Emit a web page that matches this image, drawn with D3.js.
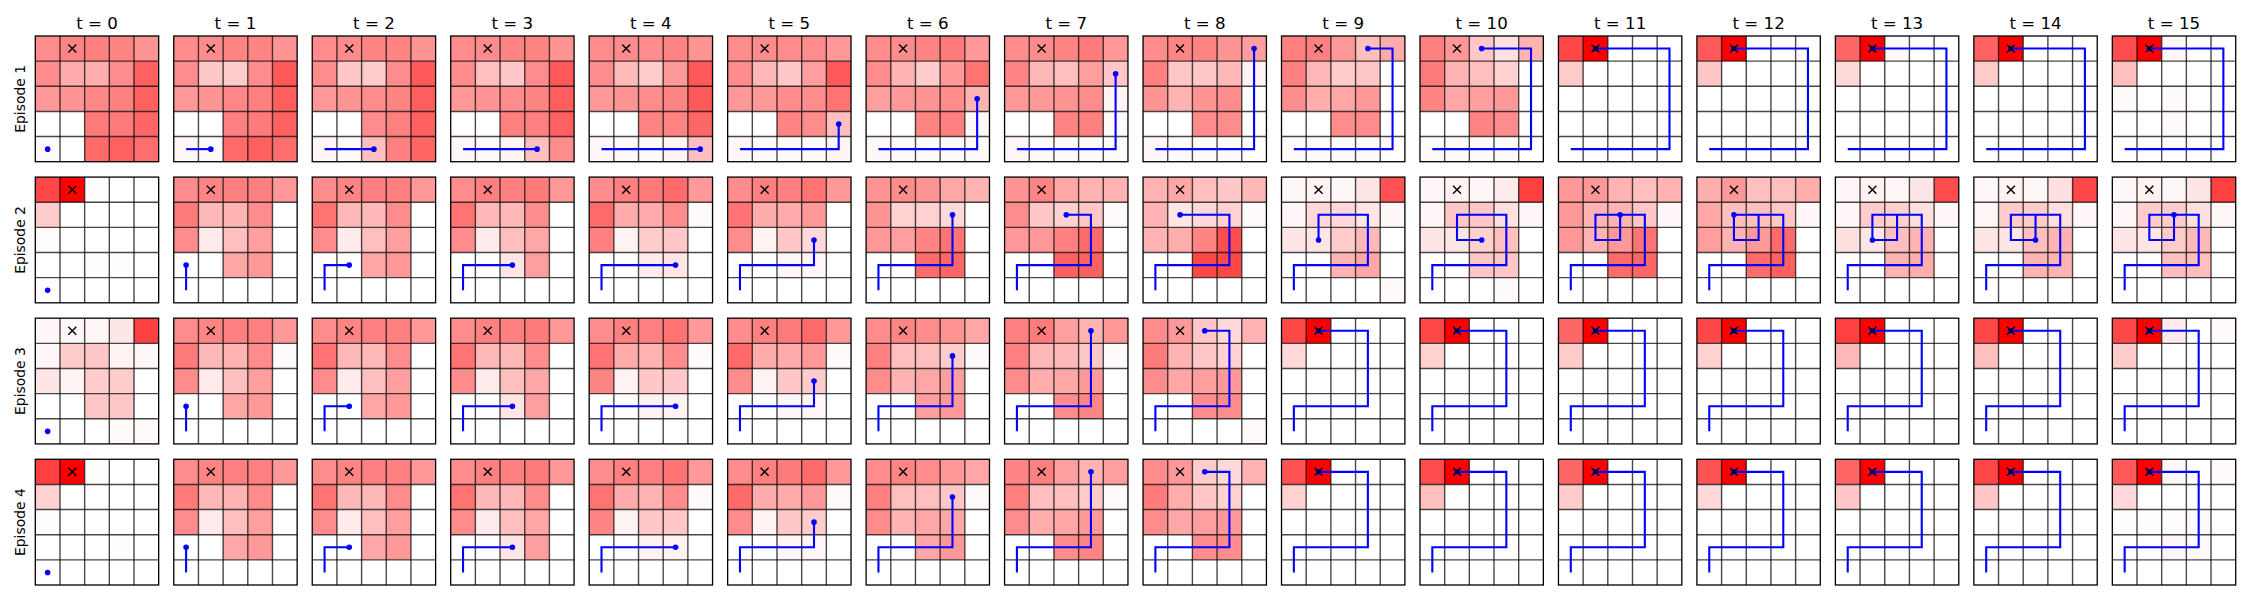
<!DOCTYPE html>
<html><head><meta charset="utf-8">
<script src="https://cdn.jsdelivr.net/npm/d3@7"></script>
<style>body{margin:0;background:#fff} svg{display:block}</style>
</head><body>
<script>
// ---------------- data ----------------
const timeSteps = d3.range(16);
const timeLabels = timeSteps.map(t => "t = " + t);
const episodeLabels = ["Episode 1", "Episode 2", "Episode 3", "Episode 4"];
const gridSize = 5;
const goalCell = [0, 1]; // [row, col]

// agent position [row, col] at each time step
const episode1Path = [[4,0],[4,1],[4,2],[4,3],[4,4],[3,4],[2,4],[1,4],[0,4],[0,3],[0,2],[0,1],[0,1],[0,1],[0,1],[0,1]];
const episode2Path = [[4,0],[3,0],[3,1],[3,2],[3,3],[2,3],[1,3],[1,2],[1,1],[2,1],[2,2],[1,2],[1,1],[2,1],[2,2],[1,2]];
const episode3Path = [[4,0],[3,0],[3,1],[3,2],[3,3],[2,3],[1,3],[0,3],[0,2],[0,1],[0,1],[0,1],[0,1],[0,1],[0,1],[0,1]];
const episode4Path = [[4,0],[3,0],[3,1],[3,2],[3,3],[2,3],[1,3],[0,3],[0,2],[0,1],[0,1],[0,1],[0,1],[0,1],[0,1],[0,1]];

// heat values (percent), rows separated by "|"
const episode1Heat = [
  "45 48 50 48 42|45 33 32 45 62|40 42 47 50 62|0 0 52 52 60|2 0 58 62 57",
  "45 45 48 48 42|45 22 20 45 65|40 42 47 50 63|0 0 50 52 62|3 2 58 62 57",
  "45 45 48 48 42|45 22 20 45 65|40 42 45 48 63|0 0 45 50 62|3 2 25 50 60",
  "45 45 48 48 42|45 25 22 45 65|40 42 45 48 63|0 0 50 50 62|3 2 4 25 45",
  "45 45 45 48 42|45 27 20 40 65|40 42 45 48 65|0 0 48 48 60|3 2 2 4 25",
  "45 45 45 45 40|45 28 22 38 65|40 40 45 45 55|0 0 48 45 25|3 2 2 2 4",
  "45 45 48 52 40|45 30 20 40 55|38 40 42 45 30|0 0 48 50 3|3 2 2 2 2",
  "45 45 48 52 40|48 28 25 38 22|40 40 42 45 4|0 0 48 50 2|3 2 2 2 2",
  "45 48 48 42 38|50 22 22 28 5|42 30 42 45 0|0 0 45 45 0|3 2 2 2 0",
  "50 50 40 25 33|50 28 20 22 0|45 32 35 40 0|0 0 45 45 0|2 2 2 2 0",
  "50 40 22 12 30|52 30 25 18 0|48 35 38 40 0|0 0 48 45 0|2 2 2 2 0",
  "72 100 0 0 0|20 0 0 0 0|0 0 0 0 0|0 0 0 0 0|0 0 0 0 0",
  "65 100 0 0 0|22 0 0 0 0|0 0 0 0 0|0 0 0 0 0|0 0 0 0 0",
  "60 100 2 0 0|15 0 0 0 0|0 0 0 0 0|0 0 0 0 0|0 0 0 0 0",
  "62 100 0 0 0|20 0 0 0 0|0 0 0 0 0|0 0 0 0 0|0 0 0 0 0",
  "70 100 3 0 0|25 0 0 0 0|2 0 2 0 0|0 0 2 0 0|0 0 0 0 0"
];
const episode2Heat = [
  "72 100 1 0 0|20 0 0 0 0|1 0 0 0 0|0 0 1 1 0|0 0 0 0 0",
  "45 48 50 50 40|52 28 30 45 0|45 8 25 38 0|0 0 35 40 0|0 0 0 0 0",
  "45 48 50 50 40|55 28 28 45 0|45 8 25 38 0|0 0 35 40 0|0 0 0 0 0",
  "45 50 50 52 40|55 28 28 45 0|45 8 25 35 0|0 0 10 38 0|0 0 0 0 0",
  "45 50 52 58 40|58 33 33 45 2|50 5 20 22 0|0 0 8 10 0|0 0 0 0 0",
  "45 50 50 55 40|55 33 33 40 0|45 5 22 15 0|0 0 3 3 0|0 0 0 0 0",
  "42 45 42 35 30|42 18 18 15 0|40 38 48 55 0|0 0 58 60 0|0 0 0 0 0",
  "42 48 35 30 30|45 22 18 22 2|40 40 50 58 0|0 0 62 62 0|0 0 0 0 0",
  "30 35 25 22 28|30 10 15 18 2|30 32 48 70 0|0 0 72 72 0|0 0 0 0 0",
  "3 5 3 10 68|3 15 15 10 3|10 10 20 28 0|0 0 30 35 0|0 0 0 0 2",
  "3 5 3 8 75|3 22 22 12 3|10 10 18 25 0|0 0 22 22 0|0 0 0 2 0",
  "40 40 30 25 30|40 30 30 22 3|40 30 40 55 0|0 0 58 60 0|0 0 0 0 0",
  "32 40 25 25 32|35 25 25 22 3|38 30 40 58 0|0 0 58 62 0|0 0 0 0 0",
  "3 5 3 10 70|3 20 18 12 3|12 10 25 30 0|0 0 30 32 0|0 0 0 0 0",
  "3 5 3 12 72|3 20 20 12 3|10 10 25 30 0|0 0 30 30 0|0 0 0 0 0",
  "3 5 3 10 75|3 20 20 12 3|10 10 20 28 0|0 0 25 25 0|0 0 0 0 0"
];
const episode3Heat = [
  "3 3 3 10 75|3 20 22 5 3|10 4 20 20 0|0 0 22 22 0|0 0 0 2 2",
  "45 48 50 50 40|52 28 30 45 2|45 8 25 38 0|0 0 35 40 0|0 0 0 0 0",
  "45 48 50 50 40|55 28 28 45 0|45 8 25 38 0|0 0 35 40 0|0 0 0 0 0",
  "45 50 50 52 40|55 28 28 45 0|45 8 25 35 0|0 0 10 38 0|0 0 0 0 0",
  "45 50 50 55 40|55 33 30 45 2|48 5 22 22 0|0 0 5 5 0|0 0 0 0 0",
  "45 50 52 58 40|58 33 33 40 2|45 5 22 20 0|0 0 3 3 0|0 0 0 0 0",
  "45 48 45 42 35|50 25 25 20 2|45 30 35 38 0|0 0 38 40 0|0 0 0 0 0",
  "50 52 38 30 40|50 28 28 22 2|45 32 35 40 0|0 0 45 48 0|0 0 0 0 0",
  "45 40 22 15 30|52 30 22 18 0|45 35 38 40 0|0 0 45 45 0|0 0 0 0 2",
  "72 100 0 0 0|15 0 0 0 0|0 0 0 0 0|0 0 0 0 0|0 0 0 0 0",
  "72 100 0 0 0|18 0 0 0 0|0 0 0 0 0|0 0 0 0 0|0 0 0 0 0",
  "60 100 0 0 0|20 0 0 0 0|0 0 0 0 0|0 0 0 0 0|0 0 0 0 0",
  "72 100 0 0 0|18 0 0 0 0|0 0 0 0 0|0 0 0 0 0|0 0 0 0 0",
  "75 100 0 0 0|28 0 0 0 0|0 0 0 0 0|0 0 0 0 0|0 0 0 0 0",
  "72 100 0 0 0|25 0 0 0 0|0 0 0 0 0|0 0 0 0 0|0 0 0 0 0",
  "72 100 8 0 2|20 0 0 0 0|0 0 0 0 0|0 0 0 0 0|0 0 0 0 0"
];
const episode4Heat = [
  "75 100 1 0 0|18 0 0 0 0|1 0 0 0 0|0 0 0 1 0|0 0 0 0 0",
  "45 48 50 50 40|52 28 30 45 0|45 8 25 38 0|0 0 35 40 0|0 0 0 0 0",
  "45 48 50 50 40|55 28 28 45 0|45 8 25 38 0|0 0 35 40 0|0 0 0 0 0",
  "45 50 50 52 40|55 28 28 45 0|45 8 25 35 0|0 0 10 38 0|0 0 0 0 0",
  "45 50 50 55 40|55 33 30 45 2|48 5 22 22 0|0 0 5 5 0|0 0 0 0 0",
  "45 50 52 58 40|58 33 33 40 2|45 5 22 20 0|0 0 3 3 0|0 0 0 0 0",
  "45 48 45 40 35|50 25 25 22 2|45 30 35 35 0|0 0 35 40 0|0 0 0 0 0",
  "48 50 38 30 38|50 25 25 20 2|45 32 35 40 0|0 0 45 48 0|0 0 0 0 0",
  "45 40 20 15 30|52 32 22 18 0|45 35 38 40 0|0 0 45 45 0|0 0 0 0 0",
  "68 100 0 0 0|18 0 0 0 0|0 0 0 0 0|0 0 0 0 0|0 0 0 0 0",
  "70 100 0 0 0|25 0 0 0 0|0 0 0 0 0|0 0 0 0 0|0 0 0 0 0",
  "60 100 0 0 0|20 0 0 0 0|0 0 0 0 0|0 0 0 0 0|0 0 0 0 0",
  "68 100 0 0 0|15 0 0 0 0|0 0 0 0 0|0 0 0 0 0|0 0 0 0 0",
  "60 100 0 0 0|22 0 0 0 0|0 0 0 0 0|0 0 0 0 0|0 0 0 0 0",
  "72 100 0 0 0|22 0 0 0 0|0 0 0 0 0|0 0 0 0 0|0 0 0 0 0",
  "65 100 3 0 2|15 0 0 0 0|1 1 1 2 0|0 0 3 2 0|0 0 0 0 0"
];

const episodeHeat = [episode1Heat, episode2Heat, episode3Heat, episode4Heat];
const episodePaths = [episode1Path, episode2Path, episode3Path, episode4Path];

// ---------------- drawing ----------------
const W = 2250, H = 600;
const svg = d3.select("body").append("svg").attr("width", W).attr("height", H)
  .style("font-family", "'DejaVu Sans', sans-serif");

const colX = d3.scaleBand().domain(timeSteps).range([35.3, 2235.7]).paddingInner(0.109);
const rowY = d3.scaleBand().domain(d3.range(episodeLabels.length)).range([36, 585]).paddingInner(0.109);
const cellX = d3.scaleBand().domain(d3.range(gridSize)).range([0, colX.bandwidth()]);
const cellY = d3.scaleBand().domain(d3.range(gridSize)).range([0, rowY.bandwidth()]);
const color = d3.scaleLinear().domain([0, 100]).range(["#ffffff", "#ff0000"]).clamp(true);

const cx = c => cellX(c) + cellX.bandwidth() / 2;
const cy = r => cellY(r) + cellY.bandwidth() / 2;
const line = d3.line().x(d => cx(d[1])).y(d => cy(d[0]));

function parseHeat(s) {
  const cells = [];
  s.split("|").forEach((row, r) => {
    row.trim().split(/\s+/).forEach((v, c) => cells.push({r, c, v: +v}));
  });
  return cells;
}

// titles
svg.append("g").selectAll("text").data(timeSteps).join("text")
  .attr("x", t => colX(t) + colX.bandwidth() / 2)
  .attr("y", 28.5)
  .attr("text-anchor", "middle")
  .style("font-size", "16.67px")
  .attr("fill", "#000")
  .text(t => timeLabels[t]);

// row labels
svg.append("g").selectAll("text").data(episodeLabels).join("text")
  .attr("transform", (d, i) => `translate(25.2,${rowY(i) + rowY.bandwidth() / 2}) rotate(-90)`)
  .attr("text-anchor", "middle")
  .style("font-size", "13.9px")
  .attr("fill", "#000")
  .text(d => d);

const bw = colX.bandwidth(), bh = rowY.bandwidth();

episodeLabels.forEach((lab, e) => {
  timeSteps.forEach(t => {
    const g = svg.append("g").attr("transform", `translate(${colX(t)},${rowY(e)})`);
    const cells = parseHeat(episodeHeat[e][t]);
    g.selectAll("rect.cell").data(cells).join("rect")
      .attr("class", "cell")
      .attr("x", d => cellX(d.c)).attr("y", d => cellY(d.r))
      .attr("width", cellX.bandwidth()).attr("height", cellY.bandwidth())
      .attr("fill", d => color(d.v));
    // inner grid lines
    const inner = d3.range(1, gridSize);
    g.selectAll("line.v").data(inner).join("line").attr("class", "v")
      .attr("x1", i => cellX(i)).attr("x2", i => cellX(i))
      .attr("y1", 0).attr("y2", bh)
      .attr("stroke", "#000").attr("stroke-opacity", 0.72).attr("stroke-width", 1.4);
    g.selectAll("line.h").data(inner).join("line").attr("class", "h")
      .attr("y1", i => cellY(i)).attr("y2", i => cellY(i))
      .attr("x1", 0).attr("x2", bw)
      .attr("stroke", "#000").attr("stroke-opacity", 0.72).attr("stroke-width", 1.4);
    // frame
    g.append("rect").attr("x", 0).attr("y", 0).attr("width", bw).attr("height", bh)
      .attr("fill", "none").attr("stroke", "#000").attr("stroke-width", 1.3);
    // path
    const path = episodePaths[e].slice(0, t + 1);
    if (path.length > 1) {
      g.append("path").attr("d", line(path)).attr("fill", "none")
        .attr("stroke", "#0000ff").attr("stroke-width", 2.1)
        .attr("stroke-linejoin", "miter").attr("stroke-linecap", "butt");
    }
    const last = path[path.length - 1];
    g.append("circle").attr("cx", cx(last[1])).attr("cy", cy(last[0])).attr("r", 2.8)
      .attr("fill", "#0000ff");
    // goal marker
    const gx = cx(goalCell[1]), gy = cy(goalCell[0]), m = 4;
    g.append("path").attr("d", `M${gx - m},${gy - m}L${gx + m},${gy + m}M${gx - m},${gy + m}L${gx + m},${gy - m}`)
      .attr("stroke", "#000").attr("stroke-width", 1.4).attr("fill", "none");
  });
});
</script>
</body></html>
